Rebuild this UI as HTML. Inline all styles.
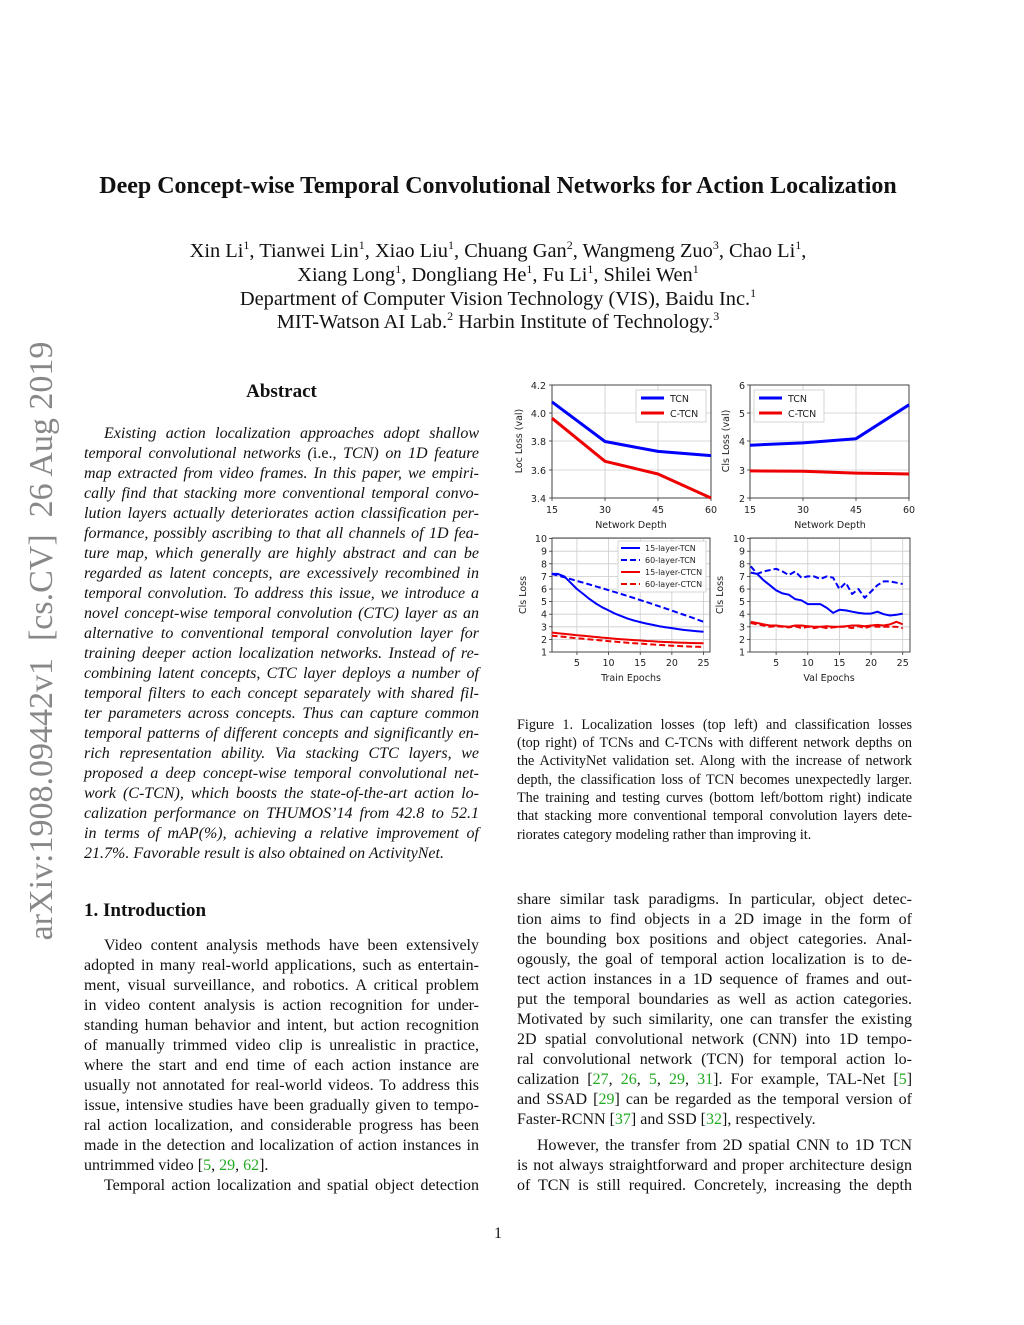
<!DOCTYPE html>
<html><head><meta charset="utf-8">
<style>
body{margin:0;width:1024px;height:1325px;background:#fff;position:relative;overflow:hidden;font-family:"Liberation Serif",serif;color:#111}
.l{position:absolute;font-size:16px;line-height:20px;height:20px;white-space:nowrap;text-align:justify;text-align-last:justify;margin-top:2px}
.L{left:84px;width:395px}.R{left:517px;width:395px}
.e{text-align-last:left}
.i{font-style:italic}
.c{position:absolute;left:0;width:996px;text-align:center;white-space:nowrap}
.cap{position:absolute;left:517px;width:395px;font-size:14.2px;line-height:18px;white-space:nowrap;text-align:justify;text-align-last:justify;margin-top:1px}
.g{color:#2a2}
sup{font-size:12px;line-height:0}
svg text{font-family:"DejaVu Sans",sans-serif;font-size:9.5px;fill:#222}
</style></head><body>
<div style="position:absolute;top:641px;width:640px;height:36px;transform:translate(-50%,-50%) rotate(-90deg);transform-origin:center;left:42px;font-size:34px;color:#888;white-space:nowrap;text-align:center;line-height:36px">arXiv:1908.09442v1&nbsp; [cs.CV]&nbsp; 26 Aug 2019</div>

<div class="c" style="top:173px;font-size:24px;font-weight:bold">Deep Concept-wise Temporal Convolutional Networks for Action Localization</div>
<div class="c" style="top:240px;font-size:20.4px">Xin Li<sup>1</sup>, Tianwei Lin<sup>1</sup>, Xiao Liu<sup>1</sup>, Chuang Gan<sup>2</sup>, Wangmeng Zuo<sup>3</sup>, Chao Li<sup>1</sup>,</div>
<div class="c" style="top:264px;font-size:20.4px">Xiang Long<sup>1</sup>, Dongliang He<sup>1</sup>, Fu Li<sup>1</sup>, Shilei Wen<sup>1</sup></div>
<div class="c" style="top:288px;font-size:20.4px">Department of Computer Vision Technology (VIS), Baidu Inc.<sup>1</sup></div>
<div class="c" style="top:311px;font-size:20.4px">MIT-Watson AI Lab.<sup>2</sup> Harbin Institute of Technology.<sup>3</sup></div>

<div style="position:absolute;left:84px;width:395px;top:381px;text-align:center;font-size:19px;font-weight:bold">Abstract</div>
<div class="l L i" style="top:422px;padding-left:20px;width:375px">Existing action localization approaches adopt shallow</div>
<div class="l L i" style="top:442px">temporal convolutional networks (<span style="font-style:normal">i.e.</span>, TCN) on 1D feature</div>
<div class="l L i" style="top:462px">map extracted from video frames. In this paper, we empiri-</div>
<div class="l L i" style="top:482px">cally find that stacking more conventional temporal convo-</div>
<div class="l L i" style="top:502px">lution layers actually deteriorates action classification per-</div>
<div class="l L i" style="top:522px">formance, possibly ascribing to that all channels of 1D fea-</div>
<div class="l L i" style="top:542px">ture map, which generally are highly abstract and can be</div>
<div class="l L i" style="top:562px">regarded as latent concepts, are excessively recombined in</div>
<div class="l L i" style="top:582px">temporal convolution. To address this issue, we introduce a</div>
<div class="l L i" style="top:602px">novel concept-wise temporal convolution (CTC) layer as an</div>
<div class="l L i" style="top:622px">alternative to conventional temporal convolution layer for</div>
<div class="l L i" style="top:642px">training deeper action localization networks. Instead of re-</div>
<div class="l L i" style="top:662px">combining latent concepts, CTC layer deploys a number of</div>
<div class="l L i" style="top:682px">temporal filters to each concept separately with shared fil-</div>
<div class="l L i" style="top:702px">ter parameters across concepts. Thus can capture common</div>
<div class="l L i" style="top:722px">temporal patterns of different concepts and significantly en-</div>
<div class="l L i" style="top:742px">rich representation ability. Via stacking CTC layers, we</div>
<div class="l L i" style="top:762px">proposed a deep concept-wise temporal convolutional net-</div>
<div class="l L i" style="top:782px">work (C-TCN), which boosts the state-of-the-art action lo-</div>
<div class="l L i" style="top:802px">calization performance on THUMOS’14 from 42.8 to 52.1</div>
<div class="l L i" style="top:822px">in terms of mAP(%), achieving a relative improvement of</div>
<div class="l L i e" style="top:842px">21.7%. Favorable result is also obtained on ActivityNet.</div>

<div style="position:absolute;left:84px;top:900px;font-size:19px;font-weight:bold">1. Introduction</div>
<div class="l L" style="top:934px;padding-left:20px;width:375px">Video content analysis methods have been extensively</div>
<div class="l L" style="top:954px">adopted in many real-world applications, such as entertain-</div>
<div class="l L" style="top:974px">ment, visual surveillance, and robotics. A critical problem</div>
<div class="l L" style="top:994px">in video content analysis is action recognition for under-</div>
<div class="l L" style="top:1014px">standing human behavior and intent, but action recognition</div>
<div class="l L" style="top:1034px">of manually trimmed video clip is unrealistic in practice,</div>
<div class="l L" style="top:1054px">where the start and end time of each action instance are</div>
<div class="l L" style="top:1074px">usually not annotated for real-world videos. To address this</div>
<div class="l L" style="top:1094px">issue, intensive studies have been gradually given to tempo-</div>
<div class="l L" style="top:1114px">ral action localization, and considerable progress has been</div>
<div class="l L" style="top:1134px">made in the detection and localization of action instances in</div>
<div class="l L e" style="top:1154px">untrimmed video [<span class="g">5</span>, <span class="g">29</span>, <span class="g">62</span>].</div>
<div class="l L" style="top:1174px;padding-left:20px;width:375px">Temporal action localization and spatial object detection</div>

<div class="cap" style="top:715px">Figure 1. Localization losses (top left) and classification losses</div>
<div class="cap" style="top:733px">(top right) of TCNs and C-TCNs with different network depths on</div>
<div class="cap" style="top:751px">the ActivityNet validation set. Along with the increase of network</div>
<div class="cap" style="top:770px">depth, the classification loss of TCN becomes unexpectedly larger.</div>
<div class="cap" style="top:788px">The training and testing curves (bottom left/bottom right) indicate</div>
<div class="cap" style="top:806px">that stacking more conventional temporal convolution layers dete-</div>
<div class="cap" style="top:825px;text-align-last:left">riorates category modeling rather than improving it.</div>

<div class="l R" style="top:888px">share similar task paradigms. In particular, object detec-</div>
<div class="l R" style="top:908px">tion aims to find objects in a 2D image in the form of</div>
<div class="l R" style="top:928px">the bounding box positions and object categories. Anal-</div>
<div class="l R" style="top:948px">ogously, the goal of temporal action localization is to de-</div>
<div class="l R" style="top:968px">tect action instances in a 1D sequence of frames and out-</div>
<div class="l R" style="top:988px">put the temporal boundaries as well as action categories.</div>
<div class="l R" style="top:1008px">Motivated by such similarity, one can transfer the existing</div>
<div class="l R" style="top:1028px">2D spatial convolutional network (CNN) into 1D tempo-</div>
<div class="l R" style="top:1048px">ral convolutional network (TCN) for temporal action lo-</div>
<div class="l R" style="top:1068px">calization [<span class="g">27</span>, <span class="g">26</span>, <span class="g">5</span>, <span class="g">29</span>, <span class="g">31</span>]. For example, TAL-Net [<span class="g">5</span>]</div>
<div class="l R" style="top:1088px">and SSAD [<span class="g">29</span>] can be regarded as the temporal version of</div>
<div class="l R e" style="top:1108px">Faster-RCNN [<span class="g">37</span>] and SSD [<span class="g">32</span>], respectively.</div>
<div class="l R" style="top:1134px;padding-left:20px;width:375px">However, the transfer from 2D spatial CNN to 1D TCN</div>
<div class="l R" style="top:1154px">is not always straightforward and proper architecture design</div>
<div class="l R" style="top:1174px">of TCN is still required. Concretely, increasing the depth</div>
<div class="c" style="top:1225px;font-size:16px">1</div>

<svg id="s" width="1024" height="1325" style="position:absolute;left:0;top:0">
<g text-anchor="end">
<text x="546" y="389">4.2</text><text x="546" y="417">4.0</text><text x="546" y="445">3.8</text><text x="546" y="474">3.6</text><text x="546" y="502">3.4</text>
<text x="745" y="389">6</text><text x="745" y="417">5</text><text x="745" y="445">4</text><text x="745" y="474">3</text><text x="745" y="502">2</text>
</g>
<g text-anchor="middle">
<text x="552" y="513">15</text><text x="605" y="513">30</text><text x="658" y="513">45</text><text x="711" y="513">60</text>
<text x="750" y="513">15</text><text x="803" y="513">30</text><text x="856" y="513">45</text><text x="909" y="513">60</text>
<text x="631" y="528">Network Depth</text><text x="830" y="528">Network Depth</text>
<text x="631" y="681">Train Epochs</text><text x="829" y="681">Val Epochs</text>
<text transform="translate(522,441) rotate(-90)">Loc Loss (val)</text>
<text transform="translate(729,441) rotate(-90)">Cls Loss (val)</text>
<text transform="translate(526,595) rotate(-90)">Cls Loss</text>
<text transform="translate(723,595) rotate(-90)">Cls Loss</text>
</g>
<g id="dyn"></g>
<g>
<rect x="636" y="390" width="70" height="32" fill="#fff" stroke="#ccc" stroke-width="0.8"/>
<line x1="641" y1="398" x2="664" y2="398" stroke="#00f" stroke-width="3"/><text x="670" y="402">TCN</text>
<line x1="641" y1="413" x2="664" y2="413" stroke="#e00" stroke-width="3"/><text x="670" y="417">C-TCN</text>
<rect x="754" y="390" width="70" height="32" fill="#fff" stroke="#ccc" stroke-width="0.8"/>
<line x1="759" y1="398" x2="782" y2="398" stroke="#00f" stroke-width="3"/><text x="788" y="402">TCN</text>
<line x1="759" y1="413" x2="782" y2="413" stroke="#e00" stroke-width="3"/><text x="788" y="417">C-TCN</text>
<rect x="618" y="541" width="88" height="51" fill="#fff" stroke="#ccc" stroke-width="0.8"/>
<line x1="621" y1="548" x2="640" y2="548" stroke="#00f" stroke-width="2"/><text x="645" y="551" style="font-size:8px">15-layer-TCN</text>
<line x1="621" y1="560" x2="640" y2="560" stroke="#00f" stroke-width="2" stroke-dasharray="6,3"/><text x="645" y="563" style="font-size:8px">60-layer-TCN</text>
<line x1="621" y1="572" x2="640" y2="572" stroke="#e00" stroke-width="2"/><text x="645" y="575" style="font-size:8px">15-layer-CTCN</text>
<line x1="621" y1="584" x2="640" y2="584" stroke="#e00" stroke-width="2" stroke-dasharray="6,3"/><text x="645" y="587" style="font-size:8px">60-layer-CTCN</text>
</g>
</svg>
<script>
var ns="http://www.w3.org/2000/svg",g=document.getElementById("dyn");
function el(t,a){var e=document.createElementNS(ns,t);for(var k in a)e.setAttribute(k,a[k]);g.appendChild(e);return e;}
function txt(x,y,s,anc){var e=el("text",{x:x,y:y,"text-anchor":anc||"middle"});e.textContent=s;}
function axes(x0,x1,y0,y1,xs,ys){
 xs.forEach(function(x){el("line",{x1:x,y1:y0,x2:x,y2:y1,stroke:"#ccc","stroke-width":0.8});el("line",{x1:x,y1:y1,x2:x,y2:y1+3,stroke:"#333","stroke-width":0.8});});
 ys.forEach(function(y){el("line",{x1:x0,y1:y,x2:x1,y2:y,stroke:"#ccc","stroke-width":0.8});el("line",{x1:x0-3,y1:y,x2:x0,y2:y,stroke:"#333","stroke-width":0.8});});
 el("rect",{x:x0,y:y0,width:x1-x0,height:y1-y0,fill:"none",stroke:"#333","stroke-width":0.9});
}
function pl(pts,col,w,dash){var a={points:pts.map(function(p){return p[0].toFixed(1)+","+p[1].toFixed(1)}).join(" "),fill:"none",stroke:col,"stroke-width":w,"stroke-linejoin":"round"};if(dash)a["stroke-dasharray"]=dash;el("polyline",a);}
var tx=[552,605,658,711];
axes(552,711,385,498,tx,[385,413,441,470,498]);
var yl=function(v){return 385+(4.2-v)*141.25};
pl([4.08,3.80,3.73,3.70].map(function(v,i){return[tx[i],yl(v)]}),"#00f",3);
pl([3.965,3.66,3.57,3.40].map(function(v,i){return[tx[i],yl(v)]}),"#e00",3);
var tx2=[750,803,856,909];
axes(750,909,385,498,tx2,[385,413,441,470,498]);
var yr=function(v){return 385+(6-v)*28.25};
pl([3.87,3.95,4.1,5.3].map(function(v,i){return[tx2[i],yr(v)]}),"#00f",3);
pl([2.96,2.95,2.88,2.85].map(function(v,i){return[tx2[i],yr(v)]}),"#e00",3);
var yb=function(v){return 652-(v-1)*12.6};
var yt=[];for(var k=1;k<=10;k++)yt.push(yb(k));
function bx(x0,e){return x0+(e-1)*6.33;}
[[551.6,552,710],[750.8,750,910]].forEach(function(c){
 axes(c[1],c[2],538,652,[5,10,15,20,25].map(function(e){return bx(c[0],e)}),yt);
 [5,10,15,20,25].forEach(function(e){txt(bx(c[0],e),666,String(e));});
 for(var k=1;k<=10;k++)txt(c[1]-5,yb(k)+3.5,String(k),"end");
});
function ser(x0,arr,col,dash){pl(arr.map(function(v,i){return[bx(x0,i+1),yb(v)]}),col,2,dash);}
var a1=[7.2,7.2,7.0,6.5,6.0,5.6,5.2,4.85,4.55,4.3,4.05,3.85,3.65,3.5,3.37,3.25,3.15,3.05,2.97,2.9,2.82,2.75,2.7,2.65,2.6];
var a2=[],a3=[],a4=[];for(var i=0;i<25;i++){var t=i/24;a2.push(7.2-3.8*(t*0.85+t*t*0.15));a3.push(2.55-0.85*(1-Math.pow(1-t,1.6)));a4.push(2.3-0.9*(1-Math.pow(1-t,1.4)));}
ser(551.6,a1,"#00f");ser(551.6,a2,"#00f","6,3");ser(551.6,a3,"#e00");ser(551.6,a4,"#e00","6,3");
var b1=[7.3,7.2,6.7,6.3,5.9,5.65,5.55,5.2,5.1,4.8,4.8,4.8,4.5,4.1,4.35,4.3,4.2,4.1,4.05,4.05,4.2,4.0,3.9,3.95,4.05];
var b2=[7.8,7.2,7.4,7.5,7.6,7.4,7.1,7.4,6.9,7.0,7.0,6.8,7.0,6.9,6.0,6.5,5.6,6.0,5.3,5.8,6.3,6.6,6.6,6.5,6.4];
var b3=[3.4,3.3,3.2,3.1,3.1,3.05,3.0,3.1,3.1,3.05,3.0,3.0,3.05,3.0,3.0,3.05,3.1,3.1,3.05,3.1,3.15,3.1,3.2,3.4,3.2];
var b4=[3.3,3.2,3.1,3.0,3.05,3.0,2.95,3.05,2.9,3.0,2.9,3.0,2.9,2.95,3.0,3.0,2.9,3.05,2.9,3.05,3.0,3.0,3.0,3.0,2.9];
ser(750.8,b1,"#00f");ser(750.8,b2,"#00f","6,3");ser(750.8,b3,"#e00");ser(750.8,b4,"#e00","6,3");
</script>
</body></html>
